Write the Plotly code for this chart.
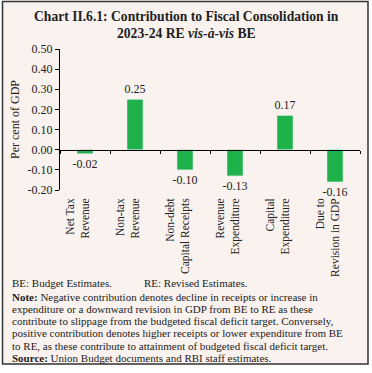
import plotly.graph_objects as go

categories = ["Net Tax<br>Revenue<br>\u00a0", "Non-tax<br>Revenue<br>\u00a0",
              "Non-debt<br>Capital Receipts<br>\u00a0", "Revenue<br>Expenditure<br>\u00a0",
              "Capital<br>Expenditure<br>\u00a0", "Due to<br>Revision in GDP<br>\u00a0"]
values = [-0.02, 0.25, -0.10, -0.13, 0.17, -0.16]
y_ticks = [-0.20, -0.10, 0.00, 0.10, 0.20, 0.30, 0.40, 0.50]
y_ticktext = [f"{v:.2f}" for v in y_ticks]
bar_text = [f"{v:.2f}" for v in values]

SERIF = "Liberation Serif"
GREEN = "#1fb24a"
BG = "#f9f2ee"
TXT = "#222222"

fig = go.Figure()
fig.add_trace(go.Bar(
    x=categories, y=values, marker_color=GREEN, width=0.32,
    text=bar_text, textposition="outside", constraintext="none",
    textfont=dict(family=SERIF, size=12, color=TXT), cliponaxis=False,
    showlegend=False, hoverinfo="skip",
))
# helper trace to build the zero-line axis with boundary ticks
fig.add_trace(go.Scatter(
    x=categories, y=[0] * len(categories), xaxis="x2", mode="lines",
    line=dict(width=0), showlegend=False, hoverinfo="skip",
))

ymin, ymax = -0.2, 0.5
zero_pos = (0 - ymin) / (ymax - ymin)

# pixel helpers (plot area: x 60..360, y 49..190)
def px(x):
    return (x - 60) / 300

def py(y):
    return (190 - y) / 141

fig.update_layout(
    width=372, height=373, autosize=False,
    margin=dict(l=60, r=12, t=49, b=183),
    paper_bgcolor="white", plot_bgcolor="rgba(0,0,0,0)",
    font=dict(family=SERIF, size=12, color=TXT),
    xaxis=dict(
        type="category", showline=False, ticks="", tickangle=-90,
        tickfont=dict(family=SERIF, size=11.5, color=TXT),
        showgrid=False, zeroline=False, range=[-0.5, 5.5],
        ticklabelstandoff=5,
    ),
    xaxis2=dict(
        type="category", overlaying="x", anchor="free", position=zero_pos,
        showline=True, linecolor="#000", linewidth=1, ticks="outside",
        ticklen=3, tickcolor="#000", tickson="boundaries",
        showticklabels=False, showgrid=False, zeroline=False, range=[-0.5, 5.5],
        side="bottom",
    ),
    yaxis=dict(
        range=[ymin, ymax], tickvals=y_ticks, ticktext=y_ticktext,
        showline=True, linecolor="#000", linewidth=1, ticks="outside",
        ticklen=4, tickcolor="#000", showgrid=False, zeroline=False,
        tickfont=dict(family=SERIF, size=12, color=TXT),
        title=dict(text="Per cent of GDP", font=dict(family=SERIF, size=12, color=TXT), standoff=5),
    ),
    shapes=[dict(type="rect", xref="paper", yref="paper", layer="below",
                 x0=px(2.5), x1=px(368), y0=py(364), y1=py(1.5),
                 fillcolor=BG, line=dict(color="#333", width=1.5))],
)

title_lines = ["<b>Chart II.6.1: Contribution to Fiscal Consolidation in</b>",
               "<b>2023-24 RE <i>vis-à-vis</i> BE</b>"]
title_y = [17, 33]
for t, yy in zip(title_lines, title_y):
    fig.add_annotation(text=t, xref="paper", yref="paper", x=px(186), y=py(yy),
                       showarrow=False, xanchor="center", yanchor="middle",
                       font=dict(family=SERIF, size=13.6, color=TXT))

note_lines = [
    "<b>Note:</b> Negative contribution denotes decline in receipts or increase in",
    "expenditure or a downward revision in GDP from BE to RE as these",
    "contribute to slippage from the budgeted fiscal deficit target. Conversely,",
    "positive contribution denotes higher receipts or lower expenditure from BE",
    "to RE, as these contribute to attainment of budgeted fiscal deficit target.",
    "<b>Source:</b> Union Budget documents and RBI staff estimates.",
]
fig.add_annotation(text="BE: Budget Estimates.", xref="paper", yref="paper",
                   x=px(10), y=py(283), showarrow=False, xanchor="left", yanchor="middle",
                   font=dict(family=SERIF, size=11, color=TXT))
fig.add_annotation(text="RE: Revised Estimates.", xref="paper", yref="paper",
                   x=px(142), y=py(283), showarrow=False, xanchor="left", yanchor="middle",
                   font=dict(family=SERIF, size=11, color=TXT))
for i, t in enumerate(note_lines):
    yy = 296.5 + 12.3 * i
    fig.add_annotation(text=t, xref="paper", yref="paper", x=px(10), y=py(yy),
                       showarrow=False, xanchor="left", yanchor="middle",
                       font=dict(family=SERIF, size=11, color=TXT))

fig.write_html("out.html",
               config={"displayModeBar": False, "staticPlot": True},
               post_script="document.body.style.margin='0';document.body.style.overflow='hidden';")
